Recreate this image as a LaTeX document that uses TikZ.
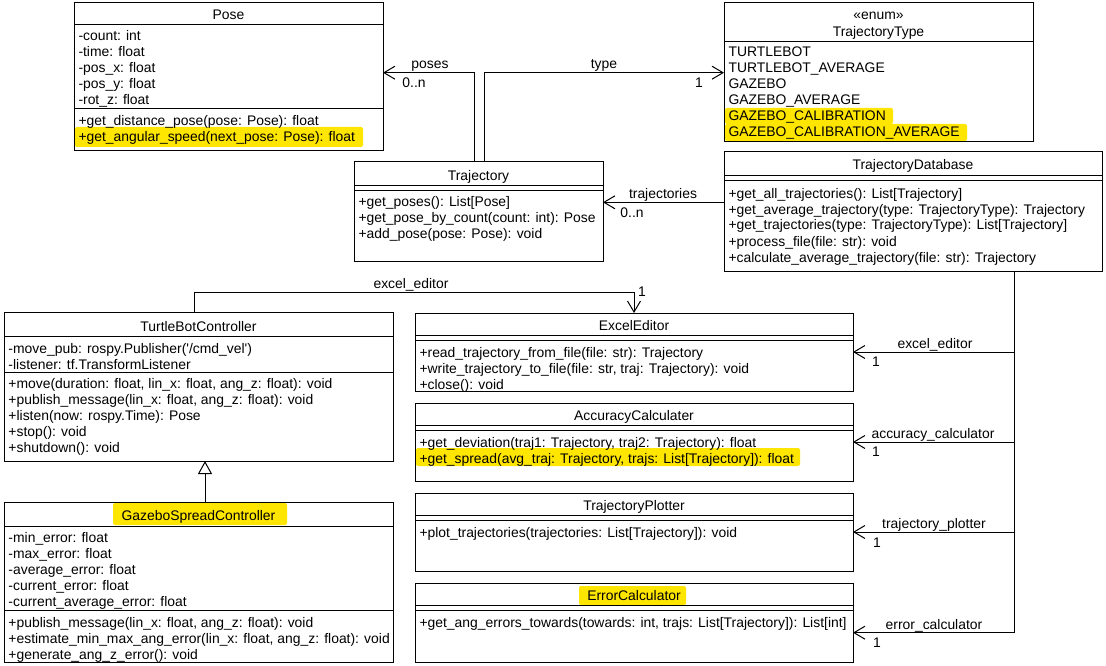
\documentclass[tikz,border=0pt]{standalone}
\usepackage{fontspec}
\setmainfont{Liberation Sans}
\usetikzlibrary{arrows.meta}
\definecolor{hl}{RGB}{255,230,0}
\newcommand\umlfont{\fontsize{13.9}{16}\selectfont}
\newcommand\umllines[1]{\begin{tabular}[t]{@{}l@{}}#1\end{tabular}}
\begin{document}
\begin{tikzpicture}[x=1pt,y=-1pt,line width=1pt,font=\umlfont,
  cls/.style={draw,anchor=north west,inner sep=0pt,outer sep=0pt},
  ttl/.style={anchor=base,inner sep=0pt},
  body/.style={anchor=base west,inner sep=0pt},
  lbl/.style={anchor=base,inner sep=0pt},
  assoc/.style={-{Straight Barb[length=11pt,width=13pt]}},
  inh/.style={-{Triangle[open,length=13pt,width=14pt]}},
  hlbox/.style={fill=hl,draw=none,rounded corners=2pt}]
\useasboundingbox[fill=white] (0,0) rectangle (1106,666);

% highlights
\fill[hlbox] (75,127) rectangle (363,147);
\fill[hlbox] (725,108) rectangle (893,124);
\fill[hlbox] (725,124) rectangle (967,141);
\fill[hlbox] (416,448) rectangle (800,466);
\fill[hlbox] (113,503) rectangle (287,525);
\fill[hlbox] (579,586) rectangle (686,605);

% boxes
\node[cls,minimum width=309pt,minimum height=148pt] (pose) at (74,3) {};
\node[cls,minimum width=309pt,minimum height=139pt] (ttype) at (724,3) {};
\node[cls,minimum width=249pt,minimum height=99pt] (traj) at (354,162) {};
\node[cls,minimum width=378pt,minimum height=119pt] (tdb) at (724,152) {};
\node[cls,minimum width=389pt,minimum height=149pt] (tbc) at (4,312) {};
\node[cls,minimum width=389pt,minimum height=160pt] (gsc) at (4,502) {};
\node[cls,minimum width=438pt,minimum height=78pt] (ee) at (415,313) {};
\node[cls,minimum width=438pt,minimum height=78pt] (ac) at (415,403) {};
\node[cls,minimum width=438pt,minimum height=78pt] (tp) at (415,493) {};
\node[cls,minimum width=438pt,minimum height=79pt] (ec) at (415,583) {};

% separators
\draw (pose.west |- 0,25) -- (pose.east |- 0,25);
\draw (pose.west |- 0,109) -- (pose.east |- 0,109);
\draw (ttype.west |- 0,42) -- (ttype.east |- 0,42);
\draw (traj.west |- 0,185) -- (traj.east |- 0,185);
\draw (traj.west |- 0,190) -- (traj.east |- 0,190);
\draw (tdb.west |- 0,175.5) -- (tdb.east |- 0,175.5);
\draw (tdb.west |- 0,180.5) -- (tdb.east |- 0,180.5);
\draw (tbc.west |- 0,336) -- (tbc.east |- 0,336);
\draw (tbc.west |- 0,372) -- (tbc.east |- 0,372);
\draw (gsc.west |- 0,526) -- (gsc.east |- 0,526);
\draw (gsc.west |- 0,610) -- (gsc.east |- 0,610);
\draw (ee.west |- 0,335.7) -- (ee.east |- 0,335.7);
\draw (ee.west |- 0,340.7) -- (ee.east |- 0,340.7);
\draw (ac.west |- 0,425.7) -- (ac.east |- 0,425.7);
\draw (ac.west |- 0,430.7) -- (ac.east |- 0,430.7);
\draw (tp.west |- 0,515) -- (tp.east |- 0,515);
\draw (tp.west |- 0,520) -- (tp.east |- 0,520);
\draw (ec.west |- 0,605.5) -- (ec.east |- 0,605.5);
\draw (ec.west |- 0,610.5) -- (ec.east |- 0,610.5);

% titles
\node[ttl] (poseT) at (pose.north |- 0,20) {Pose};
\node[ttl] (ttypeS) at (ttype.north |- 0,20) {«enum»};
\node[ttl] (ttypeT) at (ttype.north |- 0,37) {TrajectoryType};
\node[ttl] (trajT) at (traj.north |- 0,181) {Trajectory};
\node[ttl] (tdbT) at (tdb.north |- 0,169) {TrajectoryDatabase};
\node[ttl] (tbcT) at (tbc.north |- 0,331) {TurtleBotController};
\node[ttl] (gscT) at (gsc.north |- 0,520) {GazeboSpreadController};
\node[ttl] (eeT) at (ee.north |- 0,330) {ExcelEditor};
\node[ttl] (acT) at (ac.north |- 0,420) {AccuracyCalculater};
\node[ttl] (tpT) at (tp.north |- 0,510) {TrajectoryPlotter};
\node[ttl] (ecT) at (ec.north |- 0,600) {ErrorCalculator};

% bodies
\node[body] (poseA) at (78,41) {\umllines{-count: int\\-time: float\\-pos\_x: float\\-pos\_y: float\\-rot\_z: float}};
\node[body] (poseM) at (78,126) {\umllines{+get\_distance\_pose(pose: Pose): float\\+get\_angular\_speed(next\_pose: Pose): float}};
\node[body] (ttypeA) at (728,57) {\umllines{TURTLEBOT\\TURTLEBOT\_AVERAGE\\GAZEBO\\GAZEBO\_AVERAGE\\GAZEBO\_CALIBRATION\\GAZEBO\_CALIBRATION\_AVERAGE}};
\node[body] (trajM) at (358,207) {\umllines{+get\_poses(): List[Pose]\\+get\_pose\_by\_count(count: int): Pose\\+add\_pose(pose: Pose): void}};
\node[body] (tdbM) at (728,198) {\umllines{+get\_all\_trajectories(): List[Trajectory]\\+get\_average\_trajectory(type: TrajectoryType): Trajectory\\+get\_trajectories(type: TrajectoryType): List[Trajectory]\\+process\_file(file: str): void\\+calculate\_average\_trajectory(file: str): Trajectory}};
\node[body] (tbcA) at (8,353) {\umllines{-move\_pub: rospy.Publisher(\textquotesingle/cmd\_vel\textquotesingle)\\-listener: tf.TransformListener}};
\node[body] (tbcM) at (8,388) {\umllines{+move(duration: float, lin\_x: float, ang\_z: float): void\\+publish\_message(lin\_x: float, ang\_z: float): void\\+listen(now: rospy.Time): Pose\\+stop(): void\\+shutdown(): void}};
\node[body] (gscA) at (8,542) {\umllines{-min\_error: float\\-max\_error: float\\-average\_error: float\\-current\_error: float\\-current\_average\_error: float}};
\node[body] (gscM) at (8,627) {\umllines{+publish\_message(lin\_x: float, ang\_z: float): void\\+estimate\_min\_max\_ang\_error(lin\_x: float, ang\_z: float): void\\+generate\_ang\_z\_error(): void}};
\node[body] (eeM) at (419,357) {\umllines{+read\_trajectory\_from\_file(file: str): Trajectory\\+write\_trajectory\_to\_file(file: str, traj: Trajectory): void\\+close(): void}};
\node[body] (acM) at (419,447) {\umllines{+get\_deviation(traj1: Trajectory, traj2: Trajectory): float\\+get\_spread(avg\_traj: Trajectory, trajs: List[Trajectory]): float}};
\node[body] (tpM) at (419,537) {\umllines{+plot\_trajectories(trajectories: List[Trajectory]): void}};
\node[body] (ecM) at (419,627) {\umllines{+get\_ang\_errors\_towards(towards: int, trajs: List[Trajectory]): List[int]}};

% connectors
\coordinate (pj) at (474,72.7);
\coordinate (tj) at (484,72.7);
\draw[assoc] (traj.north -| pj) -- (pj) -- (pj -| pose.east);
\draw[assoc] (traj.north -| tj) -- (tj) -- (tj -| ttype.west);
\node[lbl] (posesL) at (430,69) {poses};
\node[lbl] (posesM) at (414,88) {0..n};
\node[lbl] (typeL) at (604,69) {type};
\node[lbl] (typeM) at (699,88) {1};

\coordinate (dj) at (724,202.3);
\draw[assoc] (dj -| tdb.west) -- (dj -| traj.east);
\node[lbl] (trajsL) at (663,198) {trajectories};
\node[lbl] (trajsM) at (632,217) {0..n};

\coordinate (ej1) at (194,292);
\coordinate (ej2) at (634,292);
\draw[assoc] (tbc.north -| ej1) -- (ej1) -- (ej2) -- (ee.north -| ej2);
\node[lbl] (eeL1) at (411,288) {excel\_editor};
\node[lbl] (eeM1) at (642,296) {1};

\coordinate (ih) at (205,0);
\draw[inh] (gsc.north -| ih) -- (tbc.south -| ih);

\coordinate (bus) at (1014,632.7);
\draw (tdb.south -| bus) -- (bus);
\coordinate (b1) at (1014,352);
\coordinate (b2) at (1014,442);
\coordinate (b3) at (1014,532);
\draw[assoc] (b1) -- (b1 -| ee.east);
\draw[assoc] (b2) -- (b2 -| ac.east);
\draw[assoc] (b3) -- (b3 -| tp.east);
\draw[assoc] (bus) -- (bus -| ec.east);
\node[lbl] (eeL2) at (935,348) {excel\_editor};
\node[lbl] (eeM2) at (876,366) {1};
\node[lbl] (acL) at (933,438) {accuracy\_calculator};
\node[lbl] (acMl) at (876,456) {1};
\node[lbl] (tpL) at (934,528) {trajectory\_plotter};
\node[lbl] (tpMl) at (877,547) {1};
\node[lbl] (ecL) at (934,629) {error\_calculator};
\node[lbl] (ecMl) at (877,647) {1};
\end{tikzpicture}
\end{document}
